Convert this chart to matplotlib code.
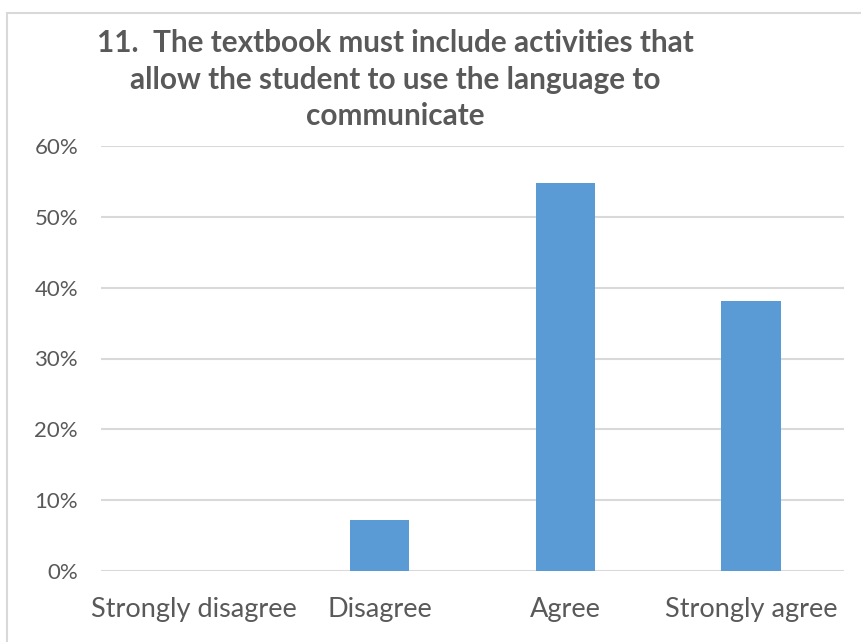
import matplotlib.pyplot as plt
from matplotlib.patches import Rectangle
from matplotlib.ticker import PercentFormatter

categories = ['Strongly disagree', 'Disagree', 'Agree', 'Strongly agree']
shares = [0.0, 0.072, 0.548, 0.381]
title = '11.  The textbook must include activities that\nallow the student to use the language to\ncommunicate'

plt.rcParams['font.family'] = ['Lato', 'DejaVu Sans']
grey = '#595959'

fig = plt.figure(figsize=(8.61, 6.42), dpi=100)
fig.patches.append(Rectangle((7 / 861, -0.1), 1.1, 1 - 13 / 642 + 0.1, transform=fig.transFigure,
                             fill=False, edgecolor='#d9d9d9', linewidth=1.5))

ax = fig.add_axes([101 / 861, 1 - 571 / 642, 743 / 861, 425 / 642])
ax.bar(range(len(categories)), shares, width=0.32, color='#5b9bd5', zorder=3)
ax.set_xlim(-0.5, len(categories) - 0.5)
ax.set_ylim(0, 0.6)
ax.set_yticks([0, 0.1, 0.2, 0.3, 0.4, 0.5, 0.6])
ax.yaxis.set_major_formatter(PercentFormatter(1.0, decimals=0))
ax.set_xticks(range(len(categories)))
ax.set_xticklabels(categories)
ax.grid(axis='y', color='#d9d9d9', linewidth=1.5, zorder=0)
for s in ax.spines.values():
    s.set_visible(False)
ax.tick_params(length=0, colors=grey)
ax.tick_params(axis='y', labelsize=16, pad=16.5)
ax.tick_params(axis='x', labelsize=19.5, pad=19)

fig.text(395 / 861, 1 - 29 / 642, title, ha='center', va='top', fontsize=21.4,
         fontweight='bold', color=grey, linespacing=1.38)

fig.savefig('out.png', dpi=100)
